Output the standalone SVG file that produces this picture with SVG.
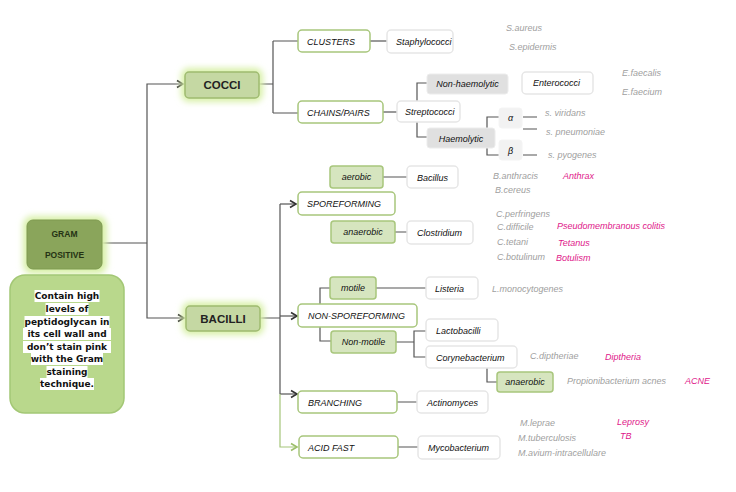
<svg xmlns="http://www.w3.org/2000/svg" width="736" height="492" viewBox="0 0 736 492">
<defs>
<filter id="glow" x="-30%" y="-50%" width="160%" height="200%"><feGaussianBlur stdDeviation="3"/></filter>
<marker id="arr" markerUnits="userSpaceOnUse" markerWidth="10" markerHeight="10" viewBox="0 0 10 10" refX="8" refY="5" orient="auto"><path d="M2,1.5 L8,5 L2,8.5" fill="none" stroke="#333" stroke-width="1.6"/></marker>
<marker id="arrg" markerUnits="userSpaceOnUse" markerWidth="10" markerHeight="10" viewBox="0 0 10 10" refX="8" refY="5" orient="auto"><path d="M2,1.5 L8,5 L2,8.5" fill="none" stroke="#9cbf6a" stroke-width="1.6"/></marker>
<style>
.ln{fill:none;stroke:#555;stroke-width:1.2}
.lg{fill:none;stroke:#a5c57a;stroke-width:1.2}
.gb{fill:#fff;stroke:#a8c67c;stroke-width:1.5}
.lgb{fill:#d6e5bf;stroke:#a8c67c;stroke-width:1.5}
.wb{fill:#fff;stroke:#e6e6e6;stroke-width:1.5}
.gy{fill:#e0e0e0;stroke:#ececec;stroke-width:1}
.ab{fill:#f2f2f2;stroke:#f4f4f4;stroke-width:1}
.t{font-family:"Liberation Sans",Arial,sans-serif;font-style:italic;font-size:9px;fill:#111}
.tc{text-anchor:middle}
.sp{font-family:"Liberation Sans",Arial,sans-serif;font-style:italic;font-size:9px;fill:#a0a0a0}
.pk{font-family:"Liberation Sans",Arial,sans-serif;font-style:italic;font-size:9px;fill:#e0188a}
.big{font-family:"Liberation Sans",Arial,sans-serif;font-weight:bold;font-size:11.5px;fill:#222;text-anchor:middle}
.desc{font-family:"DejaVu Sans",Verdana,sans-serif;font-weight:bold;font-size:9px;fill:#111;text-anchor:middle}
.hl{fill:#fff}
</style>
</defs>
<rect width="736" height="492" fill="#fff"/>

<g id="connectors">
<path class="ln" d="M102,243 H147"/>
<path class="ln" d="M147,243 V84 H183" marker-end="url(#arr)"/>
<path class="ln" d="M147,243 V318 H184" marker-end="url(#arr)"/>
<path class="ln" d="M259,84 H273 M273,41 V113 M273,41 H298 M273,113 H298"/>
<path class="ln" d="M370,41 H387"/>
<path class="ln" d="M383,112 H397"/>
<path class="ln" d="M427,83 H417 V101 M417,122 V137 H427"/>
<path class="ln" d="M487,128 V117 H499 M487,148 V155 H499"/>
<path class="ln" d="M523,117 H537 M523,129 H537 M523,155 H537"/>
<path class="ln" d="M259,318 H280 M280,204 V394"/>
<path class="ln" d="M280,204 H296" marker-end="url(#arr)"/>
<path class="ln" d="M280,316 H297" marker-end="url(#arr)"/>
<path class="ln" d="M280,394 H297" marker-end="url(#arr)"/>
<path class="lg" d="M280,394 V447 H297" marker-end="url(#arrg)"/>
<path class="ln" d="M383,177 H407 M395,232 H407"/>
<path class="ln" d="M330,288 H320 V304 M320,327 V341 H331"/>
<path class="ln" d="M376,288 H426"/>
<path class="ln" d="M396,342 H414 M426,331 H414 V357 H426"/>
<path class="ln" d="M487,367 V382 H497"/>
<path class="ln" d="M397,402 H417 M398,447 H418"/>
</g>

<g id="gram-positive">
<rect x="23" y="216" width="84" height="58" rx="9" fill="#d8f0a8" filter="url(#glow)"/>
<rect x="27" y="220" width="75" height="49" rx="6" fill="#8aa55b" stroke="#7e9a50" stroke-width="1"/>
<text x="64.5" y="237" font-family="Liberation Sans,Arial,sans-serif" font-weight="bold" font-size="8.5" fill="#253314" text-anchor="middle">GRAM</text>
<text x="64.5" y="258" font-family="Liberation Sans,Arial,sans-serif" font-weight="bold" font-size="8.5" fill="#253314" text-anchor="middle">POSITIVE</text>
</g>

<g id="description">
<rect x="10" y="275" width="114" height="138" rx="15" fill="#b9d88c" stroke="#a3c775" stroke-width="1.5"/>
<rect class="hl" x="34.5" y="290" width="65" height="12"/>
<rect class="hl" x="45.5" y="303" width="43" height="12"/>
<rect class="hl" x="24.5" y="316" width="85" height="12"/>
<rect class="hl" x="23" y="328" width="88" height="12"/>
<rect class="hl" x="23" y="341" width="88" height="12"/>
<rect class="hl" x="31" y="353" width="72" height="12"/>
<rect class="hl" x="46.5" y="366" width="41" height="12"/>
<rect class="hl" x="40" y="378" width="54" height="12"/>
<text class="desc" x="67" y="299">Contain high</text>
<text class="desc" x="67" y="312">levels of</text>
<text class="desc" x="67" y="325">peptidoglycan in</text>
<text class="desc" x="67" y="337">its cell wall and</text>
<text class="desc" x="67" y="350">don’t stain pink</text>
<text class="desc" x="67" y="362">with the Gram</text>
<text class="desc" x="67" y="375">staining</text>
<text class="desc" x="67" y="387">technique.</text>
</g>

<g id="cocci">
<rect x="181" y="68" width="82" height="34" rx="8" fill="#d8f0a8" filter="url(#glow)"/>
<rect x="185" y="72" width="74" height="26" rx="4" fill="#c5d8a3" stroke="#9fbb70" stroke-width="1.5"/>
<text class="big" x="222" y="89">COCCI</text>
</g>
<g id="bacilli">
<rect x="182" y="302" width="82" height="33" rx="8" fill="#d8f0a8" filter="url(#glow)"/>
<rect x="186" y="306" width="74" height="25" rx="4" fill="#c5d8a3" stroke="#9fbb70" stroke-width="1.5"/>
<text class="big" x="223" y="322.5">BACILLI</text>
</g>

<g id="clusters"><rect class="gb" x="298" y="30" width="72" height="22" rx="4"/><text class="t" x="307" y="44.5">CLUSTERS</text></g>
<g id="staphylococci"><rect class="wb" x="387" y="30" width="66" height="23" rx="4"/><text class="t" x="396" y="45">Staphylococci</text></g>
<g id="s-aureus"><text class="sp" x="506" y="31">S.aureus</text></g>
<g id="s-epidermis"><text class="sp" x="509" y="50">S.epidermis</text></g>

<g id="chains-pairs"><rect class="gb" x="298" y="101" width="85" height="22" rx="4"/><text class="t" x="307" y="115.5">CHAINS/PAIRS</text></g>
<g id="streptococci"><rect class="wb" x="397" y="101" width="63" height="21" rx="4"/><text class="t" x="405" y="115">Streptococci</text></g>
<g id="non-haemolytic"><rect class="gy" x="427" y="74" width="81" height="20" rx="3"/><text class="t tc" x="467.5" y="87">Non-haemolytic</text></g>
<g id="enterococci"><rect class="wb" x="522" y="72" width="71" height="22" rx="4"/><text class="t" x="533" y="86">Enterococci</text></g>
<g id="e-faecalis"><text class="sp" x="622" y="76">E.faecalis</text></g>
<g id="e-faecium"><text class="sp" x="622" y="95">E.faecium</text></g>
<g id="haemolytic"><rect class="gy" x="427" y="128" width="68" height="20" rx="3"/><text class="t tc" x="461" y="141.5">Haemolytic</text></g>
<g id="alpha"><rect class="ab" x="499" y="108" width="23" height="20" rx="3"/><text class="t tc" x="510.5" y="121">α</text></g>
<g id="beta"><rect class="ab" x="499" y="140" width="23" height="20" rx="3"/><text class="t tc" x="510.5" y="154">β</text></g>
<g id="s-viridans"><text class="sp" x="545" y="116">s. viridans</text></g>
<g id="s-pneumoniae"><text class="sp" x="546" y="135">s. pneumoniae</text></g>
<g id="s-pyogenes"><text class="sp" x="548" y="158">s. pyogenes</text></g>

<g id="sporeforming"><rect class="gb" x="298" y="192" width="97" height="23" rx="4"/><text class="t" x="307" y="207">SPOREFORMING</text></g>
<g id="aerobic"><rect class="lgb" x="330" y="166" width="53" height="22" rx="3"/><text class="t tc" x="356.5" y="180">aerobic</text></g>
<g id="bacillus"><rect class="wb" x="407" y="166" width="51" height="22" rx="4"/><text class="t" x="417" y="180.5">Bacillus</text></g>
<g id="b-anthracis"><text class="sp" x="493" y="179">B.anthracis</text></g>
<g id="anthrax"><text class="pk" x="563" y="179">Anthrax</text></g>
<g id="b-cereus"><text class="sp" x="495" y="193">B.cereus</text></g>
<g id="anaerobic-1"><rect class="lgb" x="331" y="221" width="64" height="22" rx="3"/><text class="t tc" x="363" y="235">anaerobic</text></g>
<g id="clostridium"><rect class="wb" x="407" y="221" width="66" height="23" rx="4"/><text class="t" x="417" y="235.5">Clostridium</text></g>
<g id="c-perfringens"><text class="sp" x="496" y="217">C.perfringens</text></g>
<g id="c-difficile"><text class="sp" x="497" y="230">C.difficile</text></g>
<g id="pseudomembranous"><text class="pk" x="557" y="229">Pseudomembranous colitis</text></g>
<g id="c-tetani"><text class="sp" x="497" y="245">C.tetani</text></g>
<g id="tetanus"><text class="pk" x="558" y="246">Tetanus</text></g>
<g id="c-botulinum"><text class="sp" x="497" y="260">C.botulinum</text></g>
<g id="botulism"><text class="pk" x="556" y="261">Botulism</text></g>

<g id="non-sporeforming"><rect class="gb" x="298" y="304" width="119" height="23" rx="4"/><text class="t" x="308" y="319">NON-SPOREFORMING</text></g>
<g id="motile"><rect class="lgb" x="330" y="277" width="46" height="22" rx="3"/><text class="t tc" x="353" y="291">motile</text></g>
<g id="listeria"><rect class="wb" x="426" y="277" width="52" height="22" rx="4"/><text class="t" x="435" y="291.5">Listeria</text></g>
<g id="l-monocytogenes"><text class="sp" x="492" y="292">L.monocytogenes</text></g>
<g id="non-motile"><rect class="lgb" x="331" y="331" width="65" height="22" rx="3"/><text class="t tc" x="363.5" y="345">Non-motile</text></g>
<g id="lactobacilli"><rect class="wb" x="426" y="319" width="72" height="22" rx="4"/><text class="t" x="436" y="333.5">Lactobacilli</text></g>
<g id="corynebacterium"><rect class="wb" x="426" y="346" width="91" height="22" rx="4"/><text class="t" x="436" y="360.5">Corynebacterium</text></g>
<g id="c-diptheriae"><text class="sp" x="530" y="359">C.diptheriae</text></g>
<g id="diptheria"><text class="pk" x="605" y="360">Diptheria</text></g>
<g id="anaerobic-2"><rect class="lgb" x="497" y="372" width="56" height="20" rx="3"/><text class="t tc" x="525" y="385" font-size="7.5">anaerobic</text></g>
<g id="propionibacterium"><text class="sp" x="567" y="384">Propionibacterium acnes</text></g>
<g id="acne"><text class="pk" x="685" y="384">ACNE</text></g>

<g id="branching"><rect class="gb" x="298" y="391" width="99" height="22" rx="4"/><text class="t" x="308" y="405.5">BRANCHING</text></g>
<g id="actinomyces"><rect class="wb" x="417" y="391" width="71" height="22" rx="4"/><text class="t" x="427" y="405.5">Actinomyces</text></g>
<g id="acid-fast"><rect class="gb" x="299" y="436" width="99" height="22" rx="4"/><text class="t" x="308" y="450.5">ACID FAST</text></g>
<g id="mycobacterium"><rect class="wb" x="418" y="436" width="82" height="23" rx="4"/><text class="t" x="428" y="451">Mycobacterium</text></g>
<g id="m-leprae"><text class="sp" x="520" y="426">M.leprae</text></g>
<g id="m-tuberculosis"><text class="sp" x="518" y="441">M.tuberculosis</text></g>
<g id="m-avium"><text class="sp" x="518" y="456">M.avium-intracellulare</text></g>
<g id="leprosy"><text class="pk" x="617" y="425">Leprosy</text></g>
<g id="tb"><text class="pk" x="620" y="439">TB</text></g>
</svg>
